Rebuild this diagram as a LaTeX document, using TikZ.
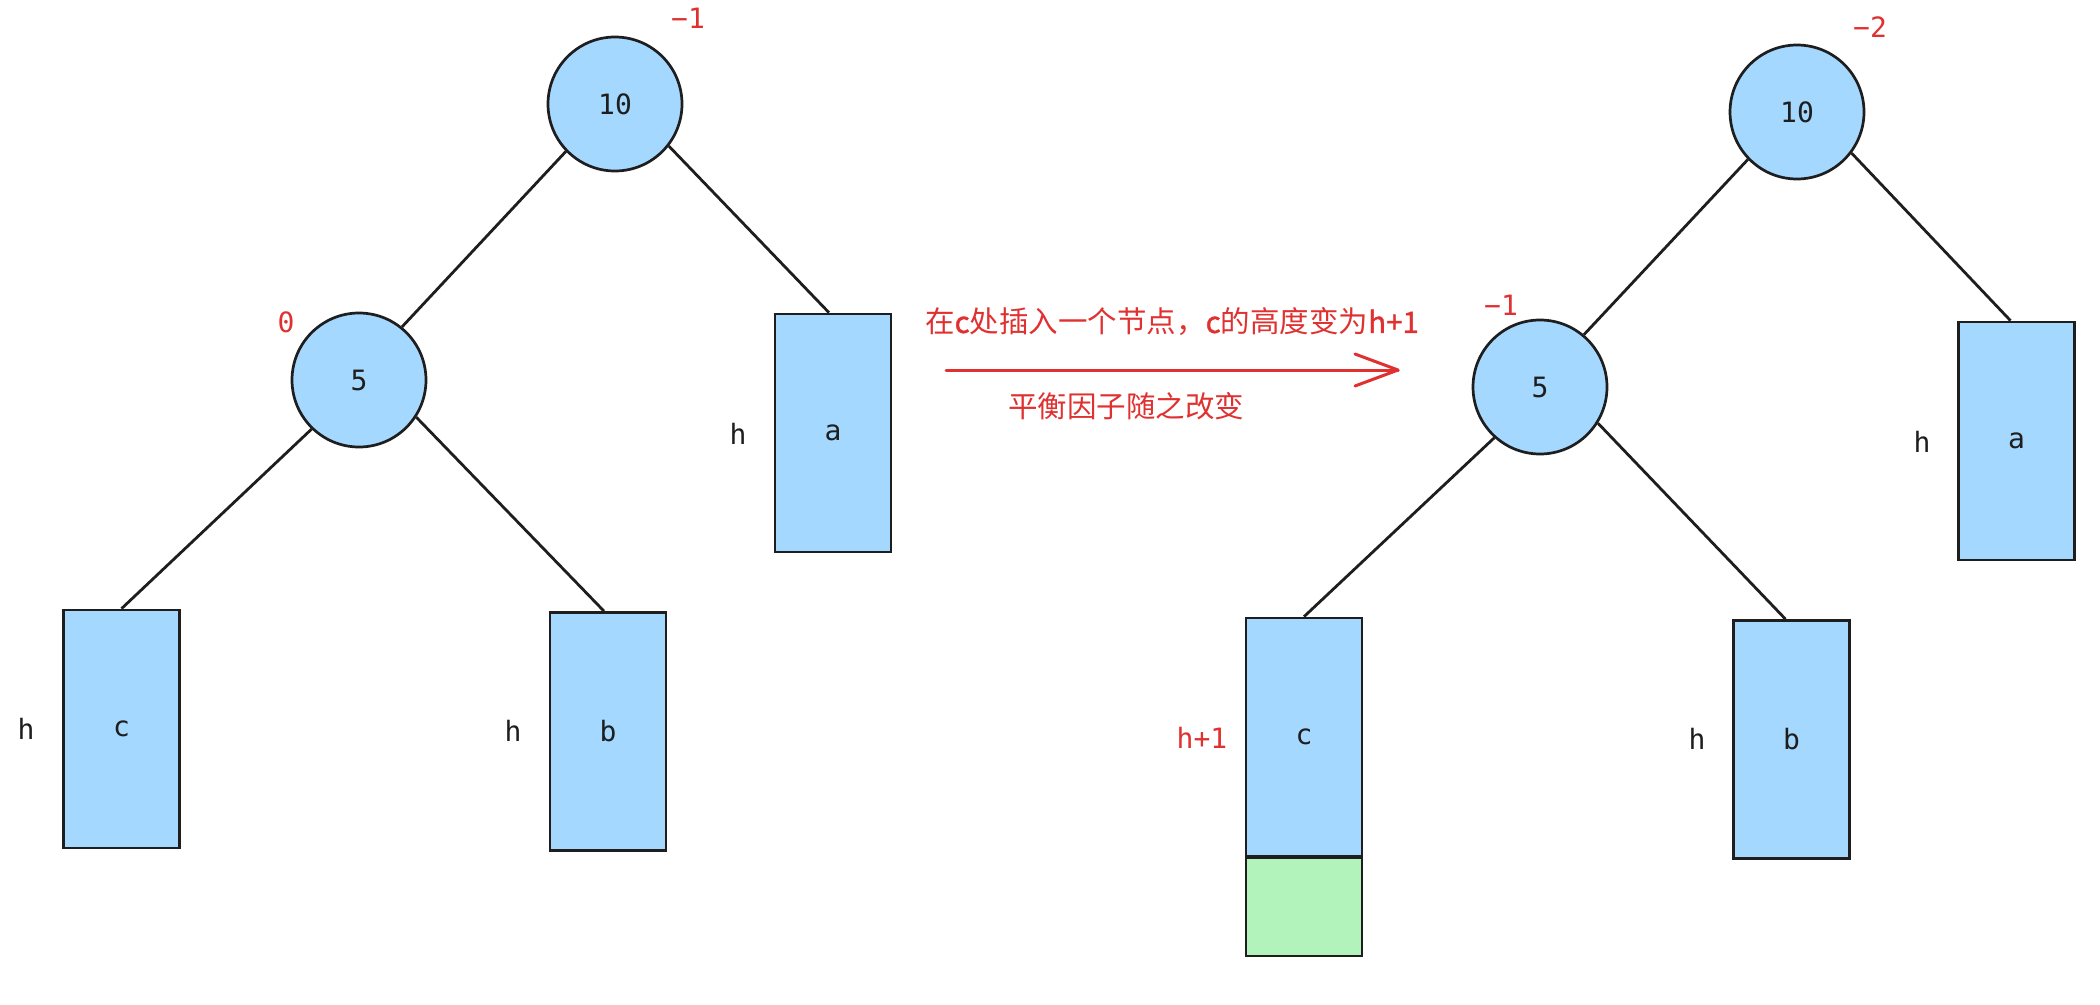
\documentclass[tikz,border=0pt]{standalone}
\usepackage{fontspec}
\setmonofont{DejaVu Sans Mono}
\newfontfamily\cjk{Noto Sans CJK SC}
\newfontfamily\cjkheavy{Noto Sans CJK SC}[FakeBold=1.3]
\definecolor{nodeblue}{HTML}{A5D8FF}
\definecolor{newgreen}{HTML}{B2F2BB}
\definecolor{inkdark}{HTML}{1E1E1E}
\definecolor{bfred}{HTML}{E03131}
\newcommand\monolbl{\ttfamily\fontsize{28}{34}\selectfont}
\newcommand\cjklbl{\cjk\fontsize{29.5}{36}\selectfont}
\newcommand\hv[1]{{\cjkheavy\fontsize{29.5}{36}\selectfont #1}}
\begin{document}
\begin{tikzpicture}[x=1pt,y=-1pt,
  treenode/.style={circle, draw=inkdark, fill=nodeblue, line width=2.7pt, minimum size=134pt, inner sep=0pt, font=\monolbl, text=inkdark},
  subtree/.style={rectangle, draw=inkdark, fill=nodeblue, line width=2.7pt, minimum width=116pt, minimum height=238pt, inner sep=0pt, font=\monolbl, text=inkdark},
  newpart/.style={rectangle, draw=inkdark, fill=newgreen, line width=2.7pt, minimum width=116pt, minimum height=98pt, inner sep=0pt},
  edge/.style={draw=inkdark, line width=2.8pt},
  hlbl/.style={inner sep=0pt, font=\monolbl, text=inkdark},
  bal/.style={inner sep=0pt, font=\monolbl, text=bfred},
  msg/.style={inner sep=0pt, font=\cjklbl, text=bfred},
  redline/.style={draw=bfred, line width=3pt, line cap=round, line join=round}]
\useasboundingbox (0,0) rectangle (2100,1004);

% ---------- left tree ----------
\node[treenode] (L10) at (615,104) {10};
\node[treenode] (L5) at (359,380) {5};
\node[subtree] (La) at (833,433) {a};
\node[subtree] (Lc) at (121.5,729) {c};
\node[subtree] (Lb) at (608,731.5) {b};
\draw[edge] (L10.-136) -- (L5.51);
\draw[edge] (L10.-38) -- ([xshift=-4pt]La.north);
\draw[edge] (L5.-134) -- (Lc.north);
\draw[edge] (L5.-33) -- ([xshift=-4pt]Lb.north);
\node[bal] (Lbf10) at (688,18) {−1};
\node[bal] (Lbf5) at (286,322) {0};
\node[hlbl] (Lha) at (738,434) {h};
\node[hlbl] (Lhc) at (26,729) {h};
\node[hlbl] (Lhb) at (513,731) {h};

% ---------- arrow and message ----------
\coordinate (arrS) at (946,370);
\coordinate (arrE) at (1398,370);
\draw[redline] (arrS) -- (arrE);
\draw[redline] ([shift={(-43,-16)}]arrE) -- (arrE) -- ([shift={(-43,16)}]arrE);
\node[msg] (msg1) at (1172,322) {在\hv{c}处插入一个节点，\hv{c}的高度变为\hv{h+1}};
\node[msg] (msg2) at (1126,406) {平衡因子随之改变};

% ---------- right tree ----------
\node[treenode] (R10) at (1797,112) {10};
\node[treenode] (R5) at (1540,387) {5};
\node[subtree] (Ra) at (2016.5,441) {a};
\node[subtree] (Rc) at (1304,737) {c};
\node[newpart] (Rnew) at (1304,907) {};
\node[subtree] (Rb) at (1791.5,739.5) {b};
\draw[edge] (R10.-136) -- (R5.50);
\draw[edge] (R10.-37) -- ([xshift=-6pt]Ra.north);
\draw[edge] (R5.-132) -- (Rc.north);
\draw[edge] (R5.-32) -- ([xshift=-6pt]Rb.north);
\node[bal] (Rbf10) at (1870,27) {−2};
\node[bal] (Rbf5) at (1501,305) {−1};
\node[hlbl] (Rha) at (1922,442) {h};
\node[bal] (Rhc) at (1202,738) {h+1};
\node[hlbl] (Rhb) at (1697,739) {h};
\end{tikzpicture}
\end{document}
